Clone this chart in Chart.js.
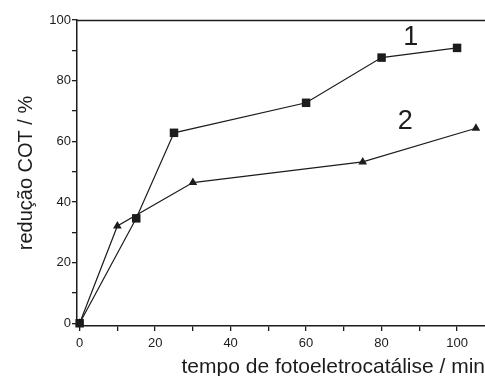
<!DOCTYPE html>
<html>
<head>
<meta charset="utf-8">
<script src="https://cdn.jsdelivr.net/npm/chart.js@4/dist/chart.umd.min.js"></script>
<style>
  html, body { margin: 0; padding: 0; background: #fff; }
  #wrap { width: 485px; height: 376px; }
</style>
</head>
<body>
<div id="wrap"><canvas id="myChart" width="485" height="376"></canvas></div>
<script>
// TOC reduction vs. photoelectrocatalysis time
const time1 = [0, 15, 25, 60, 80, 100];
const reduction1 = [0, 34.6, 62.8, 72.7, 87.6, 90.8];

const time2 = [0, 10, 30, 75, 105];
const reduction2 = [0, 32.1, 46.4, 53.2, 64.3];

const xTickValues = [0, 10, 20, 30, 40, 50, 60, 70, 80, 90, 100];
const yTickValues = [0, 10, 20, 30, 40, 50, 60, 70, 80, 90, 100];
const xLabelled = [0, 20, 40, 60, 80, 100];
const yLabelled = [0, 20, 40, 60, 80, 100];

const seriesNames = ['1', '2'];

const ink = '#1c1c1c';
const fam = 'Liberation Sans, Arial, sans-serif';
const tickFont = { family: fam, size: 13 };

// curve numbers placed in data units
const curveTags = [
  { text: seriesNames[0], x: 87.7, y: 94.2 },
  { text: seriesNames[1], x: 86.3, y: 66.4 }
];

const frame = {
  id: 'frame',
  afterDraw(chart) {
    const { ctx, chartArea, scales } = chart;
    ctx.save();
    ctx.strokeStyle = ink;
    ctx.lineWidth = 1.5;
    ctx.beginPath();
    ctx.moveTo(chartArea.left, chartArea.top + 0.5);
    ctx.lineTo(chartArea.right, chartArea.top + 0.5);
    ctx.stroke();

    ctx.fillStyle = ink;
    ctx.font = '27px ' + fam;
    ctx.textAlign = 'center';
    ctx.textBaseline = 'middle';
    curveTags.forEach(t => {
      ctx.fillText(t.text, scales.x.getPixelForValue(t.x), scales.y.getPixelForValue(t.y));
    });
    ctx.restore();
  }
};

const ctx = document.getElementById('myChart').getContext('2d');
new Chart(ctx, {
  type: 'line',
  data: {
    datasets: [
      {
        label: seriesNames[0],
        data: time1.map((t, i) => ({ x: t, y: reduction1[i] })),
        borderColor: ink,
        backgroundColor: ink,
        borderWidth: 1.2,
        pointStyle: 'rect',
        pointRadius: 6,
        pointHoverRadius: 6,
        pointBorderWidth: 0,
        tension: 0
      },
      {
        label: seriesNames[1],
        data: time2.map((t, i) => ({ x: t, y: reduction2[i] })),
        borderColor: ink,
        backgroundColor: ink,
        borderWidth: 1.2,
        pointStyle: 'triangle',
        pointRadius: 5,
        pointHoverRadius: 5,
        pointBorderWidth: 0,
        tension: 0
      }
    ]
  },
  options: {
    responsive: false,
    animation: false,
    clip: false,
    layout: { autoPadding: false, padding: { top: 20, right: 0, left: 0, bottom: 0 } },
    plugins: { legend: { display: false }, tooltip: { enabled: false } },
    scales: {
      x: {
        type: 'linear',
        min: -0.7,
        max: 107.4,
        afterBuildTicks: axis => { axis.ticks = xTickValues.map(v => ({ value: v })); },
        afterFit: axis => { axis.height = 50; },
        ticks: {
          autoSkip: false,
          maxRotation: 0,
          padding: 5,
          color: ink,
          font: tickFont,
          callback: v => xLabelled.includes(v) ? String(v) : ''
        },
        grid: { drawOnChartArea: false, drawTicks: true, tickLength: 5, color: ink, lineWidth: 1.3 },
        border: { display: true, color: ink, width: 1.5 },
        title: {
          display: true,
          text: 'tempo de fotoeletrocatálise / min',
          align: 'end',
          color: ink,
          font: { family: fam, size: 21, lineHeight: 0.8 },
          padding: { top: 0, bottom: 0 }
        }
      },
      y: {
        type: 'linear',
        min: -0.9,
        max: 100,
        afterBuildTicks: axis => { axis.ticks = yTickValues.map(v => ({ value: v })); },
        afterFit: axis => { axis.width = 77; },
        ticks: {
          autoSkip: false,
          padding: 1,
          color: ink,
          font: tickFont,
          callback: v => yLabelled.includes(v) ? String(v) : ''
        },
        grid: { drawOnChartArea: false, drawTicks: true, tickLength: 5, color: ink, lineWidth: 1.3 },
        border: { display: true, color: ink, width: 1.5 },
        title: {
          display: true,
          text: 'redução COT / %',
          color: ink,
          font: { family: fam, size: 20, lineHeight: 1 },
          padding: { top: 16, bottom: 0 }
        }
      }
    }
  },
  plugins: [frame]
});
</script>
</body>
</html>
